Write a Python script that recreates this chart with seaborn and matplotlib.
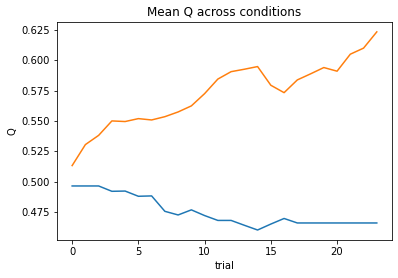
import matplotlib
matplotlib.use("Agg")
import matplotlib.pyplot as plt
import seaborn as sns
import pandas as pd
import numpy as np

trials = list(range(24))
q_cond_a = [0.4964, 0.4964, 0.4964, 0.4920, 0.4922, 0.4879, 0.4882, 0.4755, 0.4725, 0.4767,
            0.4720, 0.4680, 0.4680, 0.4640, 0.4601, 0.4650, 0.4696, 0.4659, 0.4659, 0.4659,
            0.4659, 0.4659, 0.4659, 0.4659]
q_cond_b = [0.5132, 0.5305, 0.5381, 0.5500, 0.5495, 0.5519, 0.5508, 0.5535, 0.5574, 0.5624,
            0.5725, 0.5845, 0.5906, 0.5926, 0.5948, 0.5794, 0.5733, 0.5838, 0.5888, 0.5940,
            0.5910, 0.6050, 0.6100, 0.6234]

df = pd.DataFrame({
    "trial": trials * 2,
    "Q": q_cond_a + q_cond_b,
    "condition": ["a"] * 24 + ["b"] * 24,
})

plt.rcParams["font.family"] = ["DejaVu Sans"]
fig = plt.figure(figsize=(398 / 72, 278 / 72), dpi=72)
ax = fig.add_axes([0.143, 0.137, 0.842, 0.784])
sns.lineplot(data=df, x="trial", y="Q", hue="condition",
             palette=["#1f77b4", "#ff7f0e"], legend=False, ax=ax, linewidth=1.5)
ax.set_title("Mean Q across conditions", fontsize=12)
ax.set_xlabel("trial", fontsize=10)
ax.set_ylabel("Q", fontsize=10)
ax.tick_params(labelsize=10)
ax.set_xticks([0, 5, 10, 15, 20])
ax.set_yticks([0.475, 0.500, 0.525, 0.550, 0.575, 0.600, 0.625])
fig.savefig("out.png", dpi=72)
